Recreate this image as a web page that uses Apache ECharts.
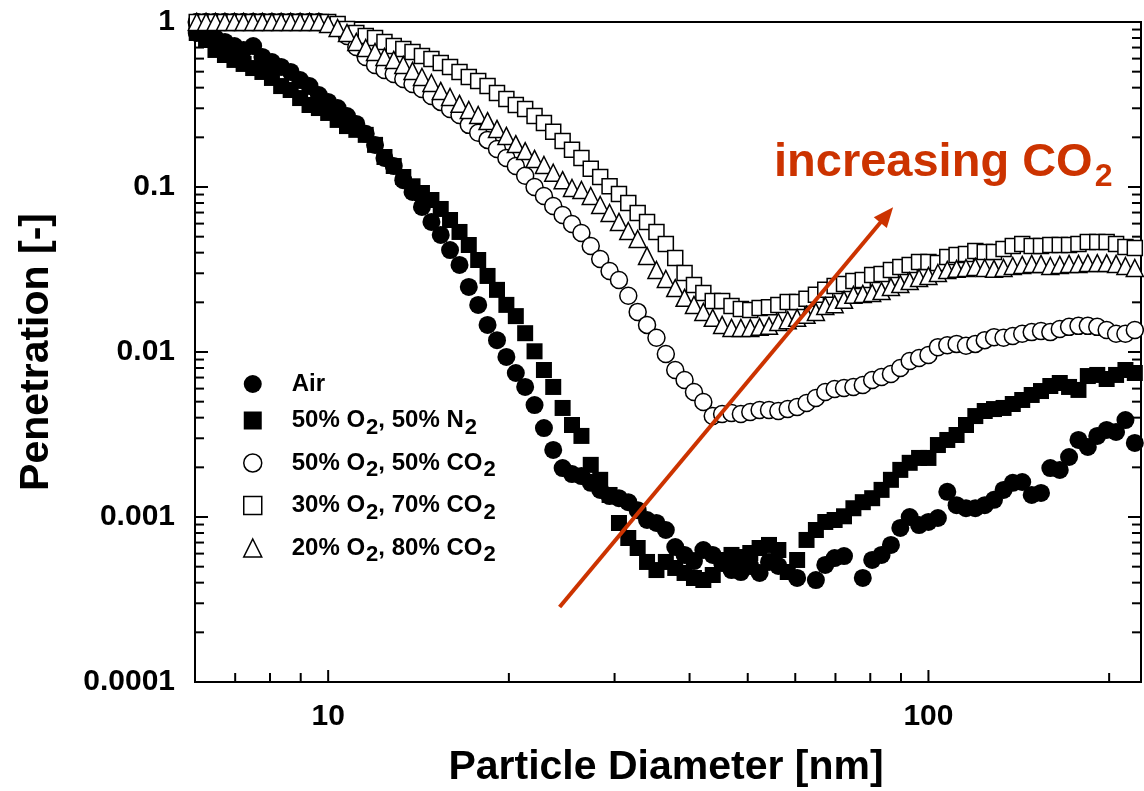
<!DOCTYPE html>
<html><head><meta charset="utf-8">
<script src="https://cdn.jsdelivr.net/npm/echarts@6/dist/echarts.min.js"></script>
<style>html,body{margin:0;padding:0;background:#fff}#c{width:1144px;height:791px}</style>
</head><body><div id="c"></div>
<script>
// Particle diameters [nm] (SMPS channels)
const diameters = [6.04, 6.26, 6.49, 6.73, 6.98, 7.23, 7.50, 7.77, 8.06, 8.35, 8.66, 8.98, 9.31, 9.65,
  10.0, 10.37, 10.75, 11.14, 11.55, 11.97, 12.41, 12.86, 13.34, 13.82, 14.33, 14.86, 15.40, 15.96, 16.55, 17.15,
  17.78, 18.43, 19.11, 19.81, 20.54, 21.29, 22.07, 22.88, 23.71, 24.58, 25.48, 26.42, 27.38, 28.39, 29.43, 30.51,
  31.62, 32.78, 33.98, 35.23, 36.52, 37.86, 39.24, 40.68, 42.17, 43.72, 45.32, 46.98, 48.70, 50.49, 52.33, 54.25,
  56.23, 58.29, 60.43, 62.65, 64.94, 67.32, 69.78, 72.34, 74.99, 77.74, 80.59, 83.54, 86.60, 89.77, 93.06, 96.47,
  100.0, 103.7, 107.5, 111.4, 115.5, 119.7, 124.1, 128.6, 133.4, 138.2, 143.3, 148.6, 154.0, 159.6, 165.5, 171.5,
  177.8, 184.3, 191.1, 198.1, 205.4, 212.9, 220.7];

const penAir = [0.858, 0.811, 0.800, 0.757, 0.715, 0.677, 0.715, 0.614, 0.572, 0.534,
  0.498, 0.445, 0.409, 0.361, 0.328, 0.301, 0.269, 0.241, 0.210, 0.180,
  0.150, 0.134, 0.110, 0.0933, 0.0757, 0.0614, 0.0512, 0.0415, 0.0337, 0.0248,
  0.0193, 0.0146, 0.0118, 0.00933, 0.00746, 0.00614, 0.00477, 0.00346, 0.00255, 0.00198,
  0.00182, 0.00177, 0.00161, 0.00146, 0.00134, 0.00130, 0.00123, 0.00110, 0.000959, 0.000920,
  0.000834, 0.000658, 0.000589, 0.000541, 0.000631, 0.000589, 0.000526, 0.000477, 0.000464, 0.000505,
  0.000458, 0.000534, 0.000505, null, 0.000427, null, 0.000415, 0.000512, 0.000564, 0.000580,
  null, 0.000427, 0.000549, 0.000589, 0.000677, 0.000858, 0.00100, 0.000894, 0.000933, 0.000986,
  0.00142, 0.00118, 0.00113, 0.00113, 0.00118, 0.00127, 0.00146, 0.00161, 0.00163, 0.00136,
  0.00140, 0.00198, 0.00193, 0.00231, 0.00293, 0.00266, 0.00310, 0.00337, 0.00328, 0.00387,
  0.00281];

const penO2N2 = [0.858, 0.778, 0.677, 0.631, 0.589, 0.557, 0.526, 0.498, 0.458, 0.409,
  0.387, 0.346, 0.314, 0.301, 0.281, 0.255, 0.234, 0.222, 0.207, 0.180,
  0.152, 0.134, 0.115, 0.101, 0.0920, 0.0834, 0.0736, 0.0631, 0.0534, 0.0445,
  0.0361, 0.0289, 0.0238, 0.0193, 0.0165, 0.0130, 0.0101, 0.00778, 0.00614, 0.00458,
  0.00361, 0.00310, 0.00207, 0.00168, 0.00136, 0.000920, 0.000746, 0.000649, 0.000534, 0.000477,
  0.000534, 0.000491, 0.000458, 0.000427, 0.000415, 0.000445, 0.000549, 0.000589, 0.000572, 0.000605,
  0.000649, 0.000677, 0.000631, 0.000464, 0.000549, 0.000726, 0.000834, 0.000933, 0.000959, 0.00101,
  0.00113, 0.00123, 0.00130, 0.00146, 0.00168, 0.00193, 0.00213, 0.00228, 0.00228, 0.00273,
  0.00293, 0.00314, 0.00361, 0.00409, 0.00439, 0.00451, 0.00458, 0.00484, 0.00512, 0.00549,
  0.00580, 0.00622, 0.00649, 0.00614, 0.00589, 0.00715, 0.00726, 0.00686, 0.00726, 0.00778,
  0.00746];

const penCO2_50 = [1.0, 1.0, 1.0, 1.0, 1.0, 1.0, 1.0, 1.0, 1.0, 1.0,
  1.0, 1.0, 1.0, 1.0, 0.986, 0.933, 0.823, 0.706, 0.614, 0.549,
  0.512, 0.484, 0.451, 0.421, 0.393, 0.356, 0.328, 0.297, 0.273, 0.238,
  0.213, 0.193, 0.170, 0.150, 0.134, 0.117, 0.100, 0.0882, 0.0767, 0.0677,
  0.0597, 0.0526, 0.0439, 0.0366, 0.0310, 0.0273, 0.0219, 0.0175, 0.0146, 0.0122,
  0.00973, 0.00778, 0.00677, 0.00572, 0.00498, 0.00409, 0.00421, 0.00427, 0.00421, 0.00433,
  0.00445, 0.00445, 0.00439, 0.00451, 0.00464, 0.00491, 0.00526, 0.00572, 0.00597, 0.00605,
  0.00614, 0.00631, 0.00677, 0.00706, 0.00736, 0.00800, 0.00882, 0.00920, 0.00959, 0.0107,
  0.0110, 0.0112, 0.0109, 0.0112, 0.0118, 0.0123, 0.0122, 0.0125, 0.0129, 0.0132,
  0.0134, 0.0132, 0.0138, 0.0142, 0.0144, 0.0144, 0.0142, 0.0136, 0.0129, 0.0129,
  0.0136];

const penCO2_70 = [1.0, 1.0, 1.0, 1.0, 1.0, 1.0, 1.0, 1.0, 1.0, 1.0,
  1.0, 1.0, 1.0, 1.0, 1.0, 0.972, 0.907, 0.858, 0.823, 0.800,
  0.757, 0.715, 0.686, 0.658, 0.622, 0.597, 0.564, 0.534, 0.498, 0.464,
  0.439, 0.409, 0.371, 0.342, 0.314, 0.297, 0.269, 0.244, 0.216, 0.190,
  0.168, 0.150, 0.129, 0.115, 0.101, 0.0907, 0.0800, 0.0696, 0.0614, 0.0534,
  0.0451, 0.0371, 0.0301, 0.0255, 0.0228, 0.0204, 0.0204, 0.0190, 0.0182, 0.0180,
  0.0185, 0.0187, 0.0193, 0.0201, 0.0201, 0.0210, 0.0222, 0.0238, 0.0251, 0.0258,
  0.0269, 0.0273, 0.0293, 0.0297, 0.0314, 0.0328, 0.0337, 0.0351, 0.0351, 0.0346,
  0.0377, 0.0387, 0.0393, 0.0409, 0.0404, 0.0404, 0.0421, 0.0439, 0.0451, 0.0439,
  0.0439, 0.0445, 0.0445, 0.0445, 0.0451, 0.0464, 0.0464, 0.0464, 0.0451, 0.0433,
  0.0427];

const penCO2_80 = [1.0, 1.0, 1.0, 1.0, 1.0, 1.0, 1.0, 1.0, 1.0, 1.0,
  1.0, 1.0, 1.0, 1.0, 0.972, 0.920, 0.858, 0.757, 0.696, 0.658,
  0.614, 0.589, 0.549, 0.505, 0.464, 0.427, 0.382, 0.351, 0.319, 0.293,
  0.273, 0.251, 0.225, 0.204, 0.182, 0.165, 0.148, 0.136, 0.122, 0.110,
  0.0986, 0.0959, 0.0882, 0.0778, 0.0696, 0.0614, 0.0541, 0.0484, 0.0382, 0.0314,
  0.0277, 0.0244, 0.0213, 0.0193, 0.0175, 0.0161, 0.0146, 0.0140, 0.0140, 0.0140,
  0.0142, 0.0144, 0.0152, 0.0156, 0.0161, 0.0168, 0.0175, 0.0190, 0.0195, 0.0207,
  0.0222, 0.0225, 0.0228, 0.0234, 0.0248, 0.0258, 0.0269, 0.0281, 0.0289, 0.0301,
  0.0314, 0.0319, 0.0323, 0.0328, 0.0323, 0.0319, 0.0323, 0.0332, 0.0337, 0.0342,
  0.0342, 0.0332, 0.0337, 0.0342, 0.0342, 0.0346, 0.0346, 0.0346, 0.0342, 0.0332,
  0.0323];

const seriesNames = ['Air', '50% O2, 50% N2', '50% O2, 50% CO2', '30% O2, 70% CO2', '20% O2, 80% CO2'];

const xMin = 6, xMax = 226, yMin = 0.0001, yMax = 1;
const xTickValues = [7, 8, 9, 10, 20, 30, 40, 50, 60, 70, 80, 90, 100, 200];
const xLabelValues = [10, 100];
const yTickValues = [0.0002, 0.0003, 0.0004, 0.0005, 0.0006, 0.0007, 0.0008, 0.0009,
  0.001, 0.002, 0.003, 0.004, 0.005, 0.006, 0.007, 0.008, 0.009,
  0.01, 0.02, 0.03, 0.04, 0.05, 0.06, 0.07, 0.08, 0.09,
  0.1, 0.2, 0.3, 0.4, 0.5, 0.6, 0.7, 0.8, 0.9, 1];
const yLabelValues = [1, 0.1, 0.01, 0.001, 0.0001];
const yLabelTexts = ['1', '0.1', '0.01', '0.001', '0.0001'];
const arrowStart = [24.3, 0.000285];
const arrowEnd = [85.2, 0.0677];

const FONT = 'Liberation Sans, Arial, sans-serif';
const RED = '#CC3300';

function pairs(ys) {
  const out = [];
  ys.forEach((v, i) => { if (v !== null) out.push([diameters[i], v]); });
  return out;
}
function isDecade(v) {
  const l = Math.log10(v);
  return Math.abs(l - Math.round(l)) < 1e-6;
}

const chart = echarts.init(document.getElementById('c'), null, {renderer: 'canvas'});

const filled = {color: '#000', opacity: 1};
const open = {color: '#fff', borderColor: '#000', borderWidth: 1.5, opacity: 1};

const option = {
  animation: false,
  backgroundColor: '#fff',
  grid: {left: 195, right: -3, top: 22, bottom: 109, show: true, borderColor: '#000', borderWidth: 2, backgroundColor: 'transparent'},
  xAxis: {
    type: 'log', logBase: 10, min: xMin, max: xMax,
    axisLine: {show: true, lineStyle: {color: '#000', width: 2}},
    axisTick: {show: false}, splitLine: {show: false},
    axisLabel: {
      margin: 20, color: '#000', fontSize: 30, fontWeight: 'bold', fontFamily: FONT,
      formatter: v => { const m = xLabelValues.find(t => Math.abs(t - v) / t < 1e-6); return m ? String(m) : ''; }
    }
  },
  yAxis: {
    type: 'log', logBase: 10, min: yMin, max: yMax,
    axisLine: {show: true, lineStyle: {color: '#000', width: 2}},
    axisTick: {show: false}, splitLine: {show: false},
    axisLabel: {
      margin: 20, color: '#000', fontSize: 30, fontWeight: 'bold', fontFamily: FONT,
      formatter: v => { const i = yLabelValues.findIndex(t => Math.abs(t - v) / t < 1e-6); return i >= 0 ? yLabelTexts[i] : ''; }
    }
  },
  legend: {
    data: [
      {name: seriesNames[0], icon: 'circle', itemStyle: {color: '#000', borderWidth: 0, opacity: 1}},
      {name: seriesNames[1], icon: 'rect', itemStyle: {color: '#000', borderWidth: 0, opacity: 1}},
      {name: seriesNames[2], icon: 'circle', itemStyle: {color: '#fff', borderColor: '#000', borderWidth: 1.5, opacity: 1}},
      {name: seriesNames[3], icon: 'rect', itemStyle: {color: '#fff', borderColor: '#000', borderWidth: 1.5, opacity: 1}},
      {name: seriesNames[4], icon: 'triangle', itemStyle: {color: '#fff', borderColor: '#000', borderWidth: 1.5, opacity: 1}}
    ],
    orient: 'vertical', left: 238, top: 367,
    itemWidth: 18, itemHeight: 18, itemGap: 6.5,
    selectedMode: false,
    formatter: name => '{p| }{a|' + name.replace(/([ONC])2/g, '$1}{s|2}{a|') + '}',
    textStyle: {
      color: '#000', fontSize: 24, fontWeight: 'bold', fontFamily: FONT,
      rich: {
        p: {fontSize: 24, width: 25, lineHeight: 36},
        a: {color: '#000', fontSize: 24, fontWeight: 'bold', fontFamily: FONT, lineHeight: 36},
        s: {color: '#000', fontSize: 22, fontWeight: 'bold', fontFamily: FONT, lineHeight: 36, padding: [14, 0, 0, 1]}
      }
    }
  },
  graphic: [
    {type: 'text', x: 666, y: 768, silent: true,
     style: {text: 'Particle Diameter [nm]', font: 'bold 41px ' + FONT, fill: '#000', align: 'center', verticalAlign: 'middle', textAlign: 'center', textVerticalAlign: 'middle'}},
    {type: 'text', x: 37, y: 352, rotation: Math.PI / 2, silent: true,
     style: {text: 'Penetration [-]', font: 'bold 41px ' + FONT, fill: '#000', align: 'center', verticalAlign: 'middle', textAlign: 'center', textVerticalAlign: 'middle'}},
    {type: 'text', x: 774, y: 163, silent: true,
     style: {
       text: '{a|increasing CO}{s|2}', verticalAlign: 'middle', textVerticalAlign: 'middle',
       rich: {
         a: {font: 'bold 47px ' + FONT, fill: RED, lineHeight: 62},
         s: {font: 'bold 32px ' + FONT, fill: RED, lineHeight: 62, padding: [28, 0, 0, 2]}
       }
     }}
  ],
  series: [
    {
      type: 'custom', name: 'xticks', coordinateSystem: 'cartesian2d', z: 1, clip: false, silent: true,
      data: xTickValues.map(v => [v, yMin]),
      renderItem: (params, api) => {
        const v = api.value(0);
        const p = api.coord([v, yMin]);
        const len = xLabelValues.includes(v) ? 12 : 9;
        return {type: 'line', shape: {x1: p[0], y1: p[1], x2: p[0], y2: p[1] - len}, style: {stroke: '#000', lineWidth: 2}};
      }
    },
    {
      type: 'custom', name: 'yticks', coordinateSystem: 'cartesian2d', z: 1, clip: false, silent: true,
      data: yTickValues.map(v => [xMin, v]),
      renderItem: (params, api) => {
        const v = api.value(1);
        const pl = api.coord([xMin, v]);
        const pr = api.coord([xMax, v]);
        const len = isDecade(v) ? 13 : 9;
        return {type: 'group', children: [
          {type: 'line', shape: {x1: pl[0], y1: pl[1], x2: pl[0] + len, y2: pl[1]}, style: {stroke: '#000', lineWidth: 2}},
          {type: 'line', shape: {x1: pr[0], y1: pr[1], x2: pr[0] - len, y2: pr[1]}, style: {stroke: '#000', lineWidth: 2}}
        ]};
      }
    },
    {type: 'scatter', name: seriesNames[0], data: pairs(penAir), symbol: 'circle', symbolSize: 18, itemStyle: filled, z: 2},
    {type: 'scatter', name: seriesNames[1], data: pairs(penO2N2), symbol: 'rect', symbolSize: 16, itemStyle: filled, z: 2},
    {type: 'scatter', name: seriesNames[2], data: pairs(penCO2_50), symbol: 'circle', symbolSize: 17, itemStyle: open, z: 2},
    {type: 'scatter', name: seriesNames[3], data: pairs(penCO2_70), symbol: 'rect', symbolSize: 15, itemStyle: open, z: 2},
    {type: 'scatter', name: seriesNames[4], data: pairs(penCO2_80), symbol: 'triangle', symbolSize: 17, itemStyle: open, z: 2},
    {
      type: 'scatter', name: 'arrow', data: [], z: 5, silent: true,
      markLine: {
        silent: true, animation: false,
        symbol: ['none', 'triangle'], symbolSize: [17, 20],
        label: {show: false},
        lineStyle: {color: RED, width: 4, type: 'solid', opacity: 1},
        itemStyle: {color: RED},
        emphasis: {disabled: true},
        data: [[{coord: arrowStart}, {coord: arrowEnd}]]
      }
    }
  ]
};
chart.setOption(option);
</script>
</body></html>
